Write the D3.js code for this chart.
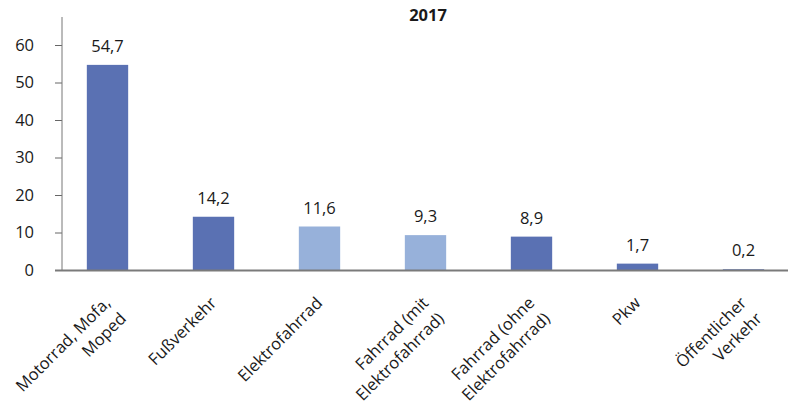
<!DOCTYPE html>
<html>
<head>
<meta charset="utf-8">
<script src="https://cdn.jsdelivr.net/npm/d3@7"></script>
<style>
  html, body { margin: 0; padding: 0; background: #fff; }
  svg { display: block; font-family: "Open Sans", "Noto Sans", sans-serif; }
</style>
</head>
<body>
<svg id="chart" width="788" height="405"></svg>
<script>
// Verkehrsmittel (label lines) and shares for 2017
const categories = [
  ["Motorrad, Mofa,", "Moped"],
  ["Fußverkehr"],
  ["Elektrofahrrad"],
  ["Fahrrad (mit", "Elektrofahrrad)"],
  ["Fahrrad (ohne", "Elektrofahrrad)"],
  ["Pkw"],
  ["Öffentlicher", "Verkehr"]
];
const values = [54.7, 14.2, 11.6, 9.3, 8.9, 1.7, 0.2];
const valueLabels = ["54,7", "14,2", "11,6", "9,3", "8,9", "1,7", "0,2"];
const barTone = ["dark", "dark", "light", "light", "dark", "dark", "dark"];
const yTicks = [0, 10, 20, 30, 40, 50, 60];
const title = "2017";

const colors = { dark: "#5a71b3", light: "#97b1da" };
const textColor = "#1a1a1a";
const fontSize = 16.5;

const svg = d3.select("#chart");
const keys = categories.map(c => c.join(" "));

const x = d3.scaleBand()
  .domain(keys)
  .range([54.5, 796.5])
  .paddingInner(0.61)
  .paddingOuter(0.305);

const y = d3.scaleLinear().domain([0, 60]).range([270, 45]);

// Title
svg.append("text")
  .attr("x", 428).attr("y", 21)
  .attr("text-anchor", "middle")
  .attr("font-size", fontSize).attr("font-weight", "bold")
  .attr("fill", textColor)
  .text(title);

// Y axis
const yAxis = d3.axisLeft(y).tickValues(yTicks).tickSize(7).tickPadding(21).tickFormat(d3.format("d"));
const yg = svg.append("g").attr("transform", "translate(62,0)").call(yAxis);
yg.select(".domain").remove();
yg.selectAll(".tick line").attr("stroke", "#666");
yg.selectAll(".tick text").attr("font-size", fontSize).attr("fill", textColor)
  .attr("font-family", "'Open Sans', 'Noto Sans', sans-serif");
yg.append("line")
  .attr("x1", 0).attr("x2", 0)
  .attr("y1", 17).attr("y2", y(0))
  .attr("stroke", "#777").attr("stroke-width", 1);

// Bars
svg.append("g").selectAll("rect")
  .data(values)
  .join("rect")
  .attr("x", (d, i) => x(keys[i]))
  .attr("width", x.bandwidth())
  .attr("y", d => y(d))
  .attr("height", d => y(0) - y(d))
  .attr("fill", (d, i) => colors[barTone[i]]);

// X axis baseline
svg.append("line")
  .attr("x1", 55).attr("x2", 788)
  .attr("y1", y(0) + 0.5).attr("y2", y(0) + 0.5)
  .attr("stroke", "#7a7a7a").attr("stroke-width", 2);

// Value labels
svg.append("g").selectAll("text")
  .data(values)
  .join("text")
  .attr("x", (d, i) => x(keys[i]) + x.bandwidth() / 2)
  .attr("y", d => y(d) - 13)
  .attr("text-anchor", "middle")
  .attr("font-size", fontSize)
  .attr("fill", textColor)
  .text((d, i) => valueLabels[i]);

// Rotated category labels
const lab = svg.append("g").selectAll("text")
  .data(categories)
  .join("text")
  .attr("transform", (d, i) => `translate(${x(keys[i]) + x.bandwidth() / 2 + 4},${y(0) + 34}) rotate(-45)`)
  .attr("text-anchor", "end")
  .attr("font-size", fontSize)
  .attr("fill", textColor);
lab.each(function(lines) {
  const t = d3.select(this);
  lines.forEach((line, j) => {
    t.append("tspan").attr("x", 0).attr("y", j * 22).text(line);
  });
});
</script>
</body>
</html>
